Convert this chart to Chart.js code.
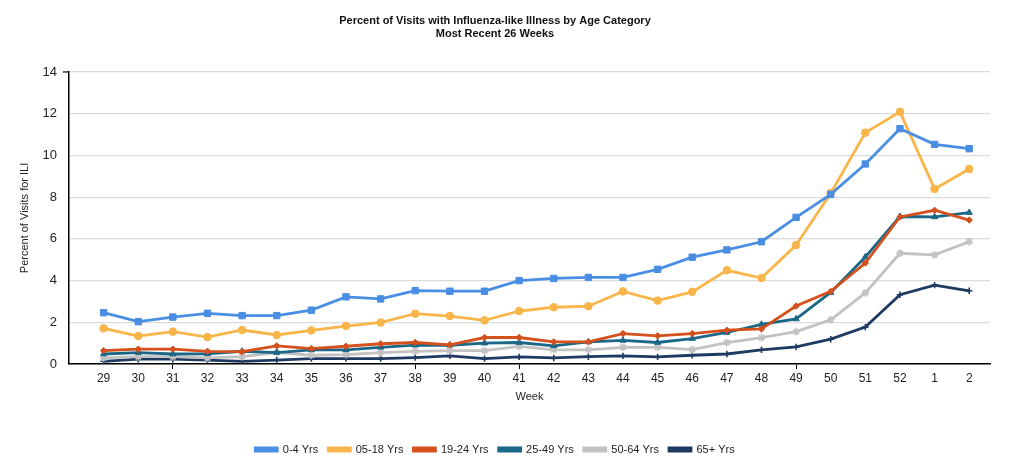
<!DOCTYPE html>
<html><head><meta charset="utf-8">
<script src="https://cdn.jsdelivr.net/npm/chart.js@4"></script>
<style>html,body{margin:0;padding:0;background:#fff}#wrap{width:1021px;height:474px}</style>
</head><body><div id="wrap"><canvas id="c"></canvas></div>
<script>
const weeks = ['29','30','31','32','33','34','35','36','37','38','39','40','41','42','43','44','45','46','47','48','49','50','51','52','1','2'];
const seriesNames = ['0-4 Yrs','05-18 Yrs','19-24 Yrs','25-49 Yrs','50-64 Yrs','65+ Yrs'];
const age0_4   = [2.46,2.03,2.25,2.43,2.32,2.32,2.58,3.22,3.12,3.52,3.49,3.49,4.00,4.10,4.15,4.15,4.54,5.12,5.47,5.86,7.03,8.13,9.59,11.28,10.53,10.32];
const age5_18  = [1.71,1.34,1.55,1.29,1.63,1.39,1.61,1.82,1.99,2.41,2.30,2.09,2.54,2.72,2.77,3.48,3.04,3.46,4.49,4.12,5.70,8.19,11.09,12.09,8.39,9.35];
const age19_24 = [0.64,0.71,0.71,0.61,0.59,0.87,0.74,0.85,0.97,1.03,0.92,1.27,1.27,1.06,1.06,1.46,1.35,1.46,1.62,1.68,2.78,3.48,4.84,7.05,7.37,6.90];
const age25_49 = [0.48,0.55,0.48,0.49,0.61,0.55,0.68,0.68,0.80,0.90,0.90,1.00,1.03,0.87,1.06,1.13,1.03,1.22,1.51,1.90,2.16,3.43,5.13,7.07,7.05,7.26];
const age50_64 = [0.29,0.35,0.35,0.29,0.35,0.55,0.42,0.45,0.55,0.61,0.64,0.64,0.84,0.68,0.68,0.80,0.80,0.69,1.03,1.26,1.55,2.12,3.41,5.31,5.23,5.86];
const age65    = [0.13,0.23,0.23,0.19,0.13,0.19,0.26,0.26,0.26,0.31,0.39,0.26,0.34,0.29,0.35,0.39,0.34,0.42,0.48,0.68,0.82,1.19,1.77,3.32,3.78,3.51];
const yTicks = [0,2,4,6,8,10,12,14];
const xTickMarks = [2,9,12,20];

const seriesData = [age0_4, age5_18, age19_24, age25_49, age50_64, age65];
const colors = ['#4A8EE3','#F7B54A','#D4501C','#1B6788','#C2C2C2','#1E3A62'];
const pstyles = ['rect','circle','rectRot','triangle','star','cross'];
const pradius = [4.5,3.8,3.2,3.6,3.8,3.2];

const datasets = seriesData.map((arr,i)=>({
  label: seriesNames[i],
  data: arr.map((v,j)=>({x:j,y:v})),
  borderColor: colors[i],
  backgroundColor: colors[i],
  borderWidth: 2.8,
  pointStyle: pstyles[i],
  pointRadius: pradius[i],
  pointBorderWidth: (i>=4)?1.6:1,
  pointBackgroundColor: colors[i],
  pointBorderColor: colors[i],
  tension: 0,
  order: i
}));

const FONT = "'Liberation Sans', Arial, sans-serif";
new Chart(document.getElementById('c'), {
  type: 'line',
  data: { datasets },
  options: {
    responsive: true,
    maintainAspectRatio: false,
    animation: false,
    layout: { padding: { left: 0, right: 31, top: 0, bottom: 9 } },
    plugins: {
      title: {
        display: true,
        text: ['Percent of Visits with Influenza-like Illness by Age Category','Most Recent 26 Weeks'],
        font: { family: FONT, size: 11, weight: 'bold', lineHeight: 1.18 },
        color: '#111',
        padding: { top: 14, bottom: 32 }
      },
      legend: {
        position: 'bottom',
        labels: {
          font: { family: FONT, size: 11 },
          color: '#222',
          boxWidth: 22,
          boxHeight: 3,
          padding: 10
        }
      },
      tooltip: { enabled: false }
    },
    scales: {
      x: {
        type: 'linear',
        min: -1,
        max: 25.6,
        afterFit: s => { s.height = 70; },
        afterBuildTicks: s => { s.ticks = weeks.map((w,i)=>({value:i})); },
        ticks: {
          autoSkip: false, maxRotation: 0, padding: 2,
          font: { family: FONT, size: 12 }, color: '#222',
          callback: (v) => weeks[v] !== undefined ? weeks[v] : ''
        },
        grid: {
          display: true, drawOnChartArea: false, tickLength: 5,
          color: ctx => (ctx.tick && xTickMarks.includes(ctx.tick.value)) ? '#000' : 'rgba(0,0,0,0)'
        },
        border: { display: true, color: '#000', width: 1.5 },
        title: { display: true, text: 'Week', font: { family: FONT, size: 11 }, color: '#222', padding: { top: 2, bottom: 30 } }
      },
      y: {
        min: 0, max: 14,
        afterFit: s => { s.width = 69; },
        afterBuildTicks: s => { s.ticks = yTicks.map(v=>({value:v})); },
        ticks: { font: { family: FONT, size: 13 }, color: '#222', padding: 12 },
        grid: {
          color: '#DCDCDC', lineWidth: 1.2, tickLength: 0,
          drawTicks: false
        },
        border: { display: true, color: '#000', width: 1.5 },
        title: { display: true, text: 'Percent of Visits for ILI', font: { family: FONT, size: 11 }, color: '#222', padding: { top: 18, bottom: 4 } }
      }
    }
  },
  plugins: [{
    id: 'topTick',
    afterDraw(chart){
      const {ctx, chartArea, scales} = chart;
      const y = scales.y.getPixelForValue(14);
      ctx.save();
      ctx.strokeStyle = '#000'; ctx.lineWidth = 1.2;
      ctx.beginPath(); ctx.moveTo(chartArea.left-6, y); ctx.lineTo(chartArea.left, y); ctx.stroke();
      ctx.restore();
    }
  }]
});
</script>
</body></html>
